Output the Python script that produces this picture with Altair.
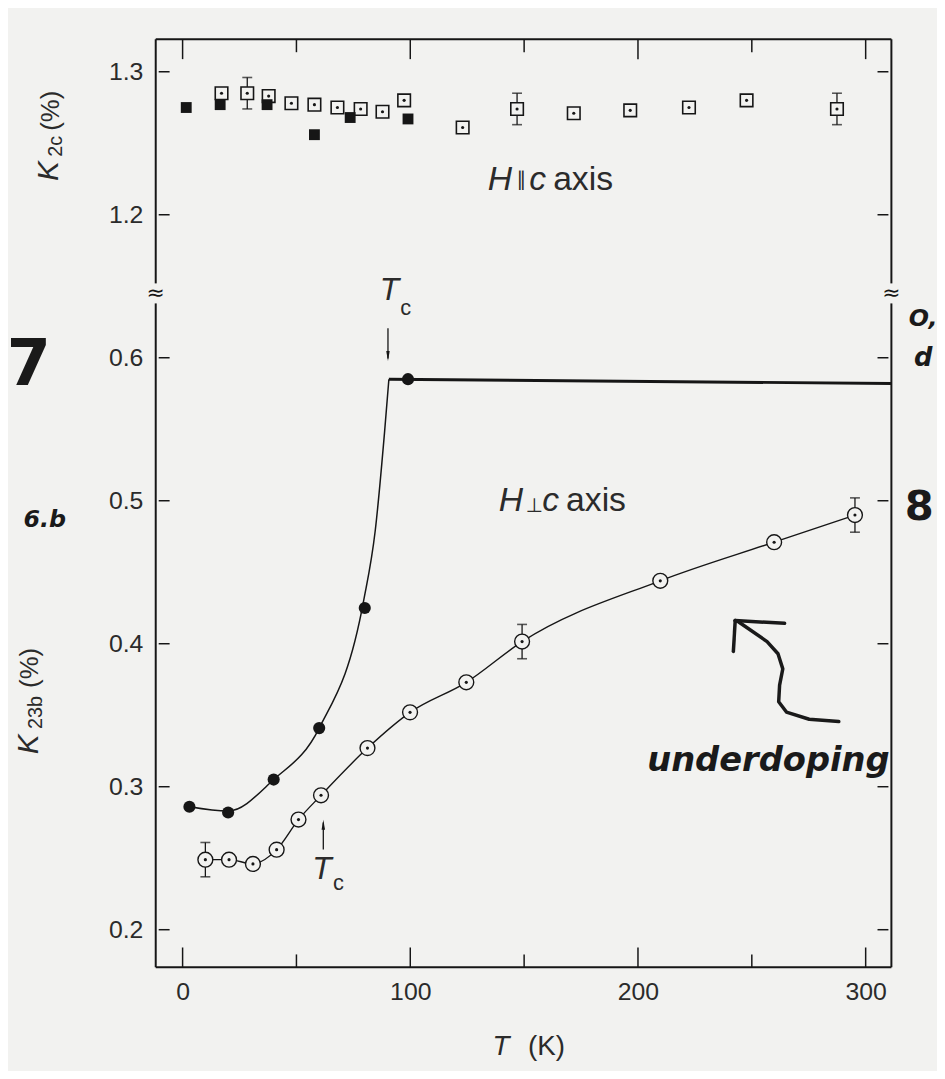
import altair as alt
import pandas as pd

# ---------------- values ----------------
# Upper panel: H || c axis, K_2c (%)
T_sq_filled = [1.6, 16.5, 37.1, 57.9, 73.6, 99.0]
K_sq_filled = [1.275, 1.277, 1.277, 1.256, 1.268, 1.267]
T_sq_open = [17.1, 28.4, 37.8, 47.8, 57.9, 68.0, 78.2, 87.8, 97.3, 123.0,
             146.9, 171.8, 196.6, 222.4, 247.7, 287.4]
K_sq_open = [1.285, 1.285, 1.283, 1.278, 1.277, 1.275, 1.274, 1.272, 1.280, 1.261,
             1.274, 1.271, 1.273, 1.275, 1.280, 1.274]
E_sq_open = [0, 0.011, 0, 0, 0, 0, 0, 0, 0, 0, 0.011, 0, 0, 0, 0, 0.011]

# Lower panel: H _|_ c axis, K_23b (%)
T_ci_filled = [3, 20, 40, 60, 80, 99]
K_ci_filled = [0.286, 0.282, 0.305, 0.341, 0.425, 0.585]
T_ci_filled_curve = [3, 20, 40, 60, 79.5, 84.6, 88.7, 90.6]
K_ci_filled_curve = [0.286, 0.283, 0.305, 0.341, 0.430, 0.479, 0.548, 0.585]
T_plateau = [90.6, 311.3]
K_plateau = [0.585, 0.582]
T_ci_open = [10, 20.4, 30.9, 41.3, 50.9, 60.8, 81.2, 99.9, 124.6, 149.1, 209.8, 259.8, 295.3]
K_ci_open = [0.249, 0.249, 0.246, 0.256, 0.277, 0.294, 0.327, 0.352, 0.373, 0.4015,
             0.444, 0.471, 0.490]
E_ci_open = [0.012, 0, 0, 0, 0, 0, 0, 0, 0, 0.012, 0, 0, 0.012]

# axis ticks (broken y axis: 1.2 and 1.3 plotted at 0.7 and 0.8)
x_major = [0, 100, 200, 300]
x_minor = [50, 150, 250]
y_tick_pos = [0.2, 0.3, 0.4, 0.5, 0.6, 0.7, 0.8]
y_tick_lab = ["0.2", "0.3", "0.4", "0.5", "0.6", "1.2", "1.3"]
y_break = 0.645

# hand-drawn arrow near "underdoping"
arrow_T = [288.2, 275.2, 265.2, 261.8, 262.2, 263.6, 261.5, 256.7, 244.1, 242.7]
arrow_u = [0.3456, 0.3472, 0.3522, 0.3594, 0.3710, 0.3824, 0.3930, 0.4015, 0.4154, 0.4162]
head1_T = [242.7, 264.4]
head1_u = [0.4162, 0.4143]
head2_T = [242.7, 241.9]
head2_u = [0.4162, 0.3946]

# ---------------- styling ----------------
BG = "#f2f2f0"
INK = "#161616"
TXT = "#2b2b2b"
FONT = "Liberation Sans"
HAND = "DejaVu Sans"
W, H = 742, 936
xs = alt.Scale(domain=[-11.8, 311.3], nice=False, zero=False)
ys = alt.Scale(domain=[0.1737, 0.8227], nice=False, zero=False)
U = "datum.K > 0.9 ? datum.K - 0.5 : datum.K"
DUMMY = pd.DataFrame({"a": [0]})

label_expr = " : ".join(
    f"abs(datum.value - {p}) < 0.001 ? '{l}'" for p, l in zip(y_tick_pos, y_tick_lab)
) + " : ''"

XAX = alt.Axis(values=x_major, ticks=False, domain=False, grid=False, title=None,
               labelFont=FONT, labelFontSize=25, labelColor=TXT, labelPadding=12,
               labelFlush=False)
YAX = alt.Axis(values=y_tick_pos, labelExpr=label_expr, ticks=False, domain=False,
               grid=False, title=None, labelFont=FONT, labelFontSize=25,
               labelColor=TXT, labelPadding=13)


def X():
    return alt.X("T:Q", scale=xs, axis=XAX)


def Y(f="u"):
    return alt.Y(f"{f}:Q", scale=ys, axis=YAX)


def series(T, K, E=None):
    d = {"T": T, "K": K}
    if E is not None:
        d["E"] = E
    return alt.Chart(pd.DataFrame(d)).transform_calculate(u=U)


def errbars(T, K, E):
    base = (series(T, K, E).transform_filter("datum.E > 0")
            .transform_calculate(lo="datum.u - datum.E")
            .transform_calculate(hi="datum.u + datum.E"))
    bar = base.mark_rule(color=INK, strokeWidth=1.3).encode(x=X(), y=Y("lo"), y2="hi:Q")
    c1 = base.mark_tick(orient="horizontal", color=INK, size=10, thickness=1.6).encode(x=X(), y=Y("lo"))
    c2 = base.mark_tick(orient="horizontal", color=INK, size=10, thickness=1.6).encode(x=X(), y=Y("hi"))
    return [bar, c1, c2]


def dtext(text, T, u, size, **kw):
    font = kw.pop("font", FONT)
    color = kw.pop("color", TXT)
    return alt.Chart(pd.DataFrame({"T": [T], "u": [u]})).mark_text(
        text=text, fontSize=size, font=font, color=color, **kw
    ).encode(x=X(), y=Y())


def ptext(text, x, y, size, **kw):
    font = kw.pop("font", FONT)
    color = kw.pop("color", TXT)
    return alt.Chart(DUMMY).mark_text(
        text=text, fontSize=size, font=font, color=color, **kw
    ).encode(x=alt.value(x), y=alt.value(y))


axes = series(T_ci_open, K_ci_open).mark_point(opacity=0).encode(x=X(), y=Y())
layers = [axes]

# frame
layers += [
    alt.Chart(DUMMY).mark_rule(color=INK, strokeWidth=2).encode(x=alt.value(0), y=alt.value(0), y2=alt.value(H)),
    alt.Chart(DUMMY).mark_rule(color=INK, strokeWidth=2).encode(x=alt.value(W), y=alt.value(0), y2=alt.value(H)),
    alt.Chart(DUMMY).mark_rule(color=INK, strokeWidth=2).encode(y=alt.value(0), x=alt.value(0), x2=alt.value(W)),
    alt.Chart(DUMMY).mark_rule(color=INK, strokeWidth=2).encode(y=alt.value(H), x=alt.value(0), x2=alt.value(W)),
]

# inner ticks
dmaj = pd.DataFrame({"T": x_major})
dmin = pd.DataFrame({"T": x_minor})
dyt = pd.DataFrame({"u": y_tick_pos})
layers += [
    alt.Chart(dmaj).mark_rule(color=INK, strokeWidth=1.5).encode(x=X(), y=alt.value(H), y2=alt.value(H - 20)),
    alt.Chart(dmin).mark_rule(color=INK, strokeWidth=1.5).encode(x=X(), y=alt.value(H), y2=alt.value(H - 13)),
    alt.Chart(dmaj).mark_rule(color=INK, strokeWidth=1.5).encode(x=X(), y=alt.value(0), y2=alt.value(20)),
    alt.Chart(dmin).mark_rule(color=INK, strokeWidth=1.5).encode(x=X(), y=alt.value(0), y2=alt.value(13)),
    alt.Chart(dyt).mark_rule(color=INK, strokeWidth=1.5).encode(y=Y(), x=alt.value(3), x2=alt.value(14)),
    alt.Chart(dyt).mark_rule(color=INK, strokeWidth=1.5).encode(y=Y(), x=alt.value(W - 14), x2=alt.value(W - 3)),
]

# axis break marks
dbrk = pd.DataFrame({"u": [y_break], "lo": [y_break - 0.007], "hi": [y_break + 0.007]})
for xp in (0, W):
    layers += [
        alt.Chart(dbrk).mark_rect(color=BG).encode(x=alt.value(xp - 6), x2=alt.value(xp + 6), y=Y("lo"), y2="hi:Q"),
        alt.Chart(dbrk).mark_text(text="\u2248", fontSize=22, font="DejaVu Sans", color=INK).encode(x=alt.value(xp), y=Y()),
    ]

# curves
layers += [
    series(T_ci_filled_curve, K_ci_filled_curve).mark_line(color=INK, strokeWidth=1.5, interpolate="monotone").encode(x=X(), y=Y()),
    series(T_plateau, K_plateau).mark_line(color=INK, strokeWidth=3).encode(x=X(), y=Y()),
    series(T_ci_open, K_ci_open).mark_line(color=INK, strokeWidth=1.4, interpolate="monotone").encode(x=X(), y=Y()),
]

# error bars
layers += errbars(T_ci_open, K_ci_open, E_ci_open)
layers += errbars(T_sq_open, K_sq_open, E_sq_open)

# markers
layers += [
    series(T_ci_open, K_ci_open).mark_point(shape="circle", filled=True, fill=BG, stroke=INK, strokeWidth=1.4, size=225, opacity=1).encode(x=X(), y=Y()),
    series(T_ci_open, K_ci_open).mark_point(shape="circle", filled=True, color=INK, size=10, opacity=1).encode(x=X(), y=Y()),
    series(T_ci_filled, K_ci_filled).mark_point(shape="circle", filled=True, color=INK, size=150, opacity=1).encode(x=X(), y=Y()),
    series(T_sq_open, K_sq_open).mark_point(shape="square", filled=True, fill=BG, stroke=INK, strokeWidth=1.6, size=160, opacity=1).encode(x=X(), y=Y()),
    series(T_sq_open, K_sq_open).mark_point(shape="circle", filled=True, color=INK, size=10, opacity=1).encode(x=X(), y=Y()),
    series(T_sq_filled, K_sq_filled).mark_point(shape="square", filled=True, color=INK, size=120, opacity=1).encode(x=X(), y=Y()),
]

# Tc arrows
d_up = pd.DataFrame({"T": [90.2], "u": [0.6207], "u2": [0.5995], "h": [0.6012]})
d_lo = pd.DataFrame({"T": [61.8], "u": [0.2561], "u2": [0.2750], "h": [0.2734]})
layers += [
    alt.Chart(d_up).mark_rule(color=INK, strokeWidth=1.3).encode(x=X(), y=Y(), y2="u2:Q"),
    alt.Chart(d_up).mark_point(shape="M-0.35,-1L0.35,-1L0,1Z", filled=True, color=INK, size=100, opacity=1).encode(x=X(), y=Y("h")),
    alt.Chart(d_lo).mark_rule(color=INK, strokeWidth=1.3).encode(x=X(), y=Y(), y2="u2:Q"),
    alt.Chart(d_lo).mark_point(shape="M-0.35,1L0.35,1L0,-1Z", filled=True, color=INK, size=100, opacity=1).encode(x=X(), y=Y("h")),
]

# text annotations
layers += [
    dtext("T", 90.8, 0.647, 32, fontStyle="italic"),
    dtext("c", 98.0, 0.6346, 22),
    dtext("T", 61.2, 0.2426, 32, fontStyle="italic"),
    dtext("c", 68.4, 0.2327, 22),
    # H || c axis
    dtext("H", 134, 0.7245, 34, fontStyle="italic", align="left"),
    dtext("\u2225", 134, 0.7245, 20, align="left", dx=29, font="DejaVu Sans"),
    dtext("c", 134, 0.7245, 34, fontStyle="italic", align="left", dx=42),
    dtext("axis", 134, 0.7245, 34, align="left", dx=66),
    # H _|_ c axis
    dtext("H", 138.8, 0.500, 34, fontStyle="italic", align="left"),
    dtext("\u22a5", 138.8, 0.500, 20, align="left", dx=27, dy=5, font="DejaVu Sans"),
    dtext("c", 138.8, 0.500, 34, fontStyle="italic", align="left", dx=44),
    dtext("axis", 138.8, 0.500, 34, align="left", dx=68),
]

# axis titles
layers += [
    ptext("K", -108, 133, 30, angle=270, fontStyle="italic"),
    ptext("2c", -101, 108, 20, angle=270),
    ptext("(%)", -106, 72, 26, angle=270),
    ptext("K", -128, 711, 30, angle=270, fontStyle="italic"),
    ptext("23b", -121, 679, 20, angle=270),
    ptext("(%)", -127, 634, 26, angle=270),
    alt.Chart(pd.DataFrame({"T": [152]})).mark_text(text="T", fontSize=28, font=FONT, color=TXT, fontStyle="italic", dx=-28).encode(x=X(), y=alt.value(H + 80)),
    alt.Chart(pd.DataFrame({"T": [152]})).mark_text(text="(K)", fontSize=28, font=FONT, color=TXT, dx=18).encode(x=X(), y=alt.value(H + 80)),
]

# handwritten notes
dpath = pd.DataFrame({
    "T": arrow_T + head1_T + head2_T,
    "u": arrow_u + head1_u + head2_u,
    "seg": ["a"] * len(arrow_T) + ["b"] * len(head1_T) + ["c"] * len(head2_T),
    "o": list(range(len(arrow_T))) + list(range(len(head1_T))) + list(range(len(head2_T))),
})
layers += [
    alt.Chart(dpath).mark_line(color="#1a1a1a", strokeWidth=3.5, strokeCap="round", strokeJoin="round").encode(
        x=X(), y=Y(), detail="seg:N", order="o:Q"),
    dtext("underdoping", 257.3, 0.318, 34, font=HAND, fontStyle="italic", fontWeight="bold", color="#1a1a1a"),
    ptext("6.b", -112, 485, 24, font=HAND, fontStyle="italic", fontWeight="bold", color="#1a1a1a"),
    ptext("7", -128, 330, 64, font=HAND, fontWeight="bold", color="#1a1a1a"),
    ptext("O,", 774, 282, 24, font=HAND, fontStyle="italic", fontWeight="bold", color="#1a1a1a"),
    ptext("d", 774, 322, 26, font=HAND, fontStyle="italic", fontWeight="bold", color="#1a1a1a"),
    ptext("8", 770, 472, 42, font=HAND, fontWeight="bold", color="#1a1a1a"),
]

chart = alt.layer(*layers).properties(
    width=W, height=H,
    padding={"left": 149, "top": 27, "right": 46, "bottom": 100},
    autosize=alt.AutoSizeParams(type="none"),
    background=BG,
).configure_view(stroke=None, fill=BG)

chart.save("out.html", embed_options={"renderer": "svg", "actions": False})
